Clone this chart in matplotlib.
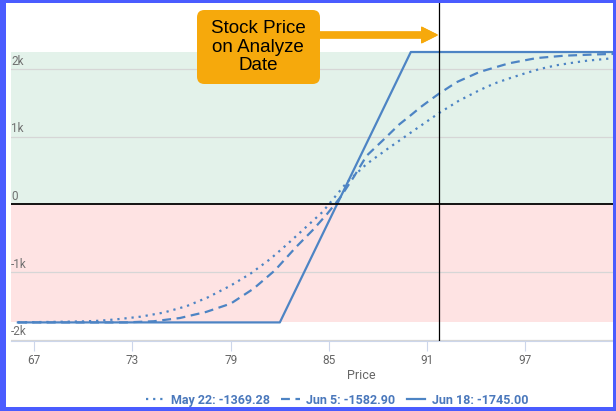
import matplotlib.pyplot as plt
from matplotlib.patches import Rectangle, FancyBboxPatch

# P/L by price for each analysis date
may22_price = [66.0, 68.0, 70.0, 71.0, 72.0, 73.5, 74.9, 76.3, 77.6, 79.0, 80.2, 81.4,
               82.4, 83.5, 84.6, 86.1, 87.3, 88.7, 90.0, 91.7, 92.9, 94.2, 95.1, 96.1,
               97.0, 97.9, 98.9, 99.8, 100.8, 101.9, 102.5]
may22_pl = [-1743, -1738, -1730, -1720, -1700, -1660, -1600, -1505, -1375, -1200, -1025, -810,
            -600, -357, -113, 328, 598, 843, 1063, 1348, 1529, 1691, 1789, 1872,
            1941, 2005, 2059, 2093, 2128, 2152, 2170]

jun5_price = [66.0, 70.0, 72.6, 74.3, 75.9, 77.5, 79.0, 80.4, 81.7, 83.0, 84.0, 84.9,
              85.7, 86.5, 87.3, 88.3, 89.3, 90.0, 90.6, 91.3, 91.7, 92.8, 94.2, 96.0,
              97.7, 99.4, 101.4, 102.5]
jun5_pl = [-1745, -1745, -1745, -1728, -1680, -1590, -1467, -1245, -975, -628, -382, -137,
           107, 401, 720, 950, 1185, 1320, 1440, 1565, 1635, 1809, 1960, 2088,
           2166, 2201, 2220, 2228]

jun18_price = [66.0, 82.0, 90.0, 102.5]
jun18_pl = [-1745, -1745, 2255, 2255]

legend_labels = ["May 22: -1369.28", "Jun 5: -1582.90", "Jun 18: -1745.00"]
x_ticks = [67, 73, 79, 85, 91, 97]
y_ticks = [2000, 1000, 0, -1000, -2000]
y_tick_labels = ["2k", "1k", "0", "-1k", "-2k"]
analyze_price = 91.7

W, H = 616, 411
line_color = "#4d84c4"
orange = "#f6a90c"
border = "#4a5cff"

fig = plt.figure(figsize=(W / 100, H / 100), dpi=100)
ax = fig.add_axes([11 / W, (H - 341) / H, 602 / W, 338 / H])

ax.axhspan(0, max(jun18_pl), color="#e3f2ea", lw=0, zorder=0)
ax.axhspan(min(jun18_pl), 0, color="#fee3e3", lw=0, zorder=0)
for v in y_ticks:
    if v != 0:
        ax.axhline(v, color="#d6d6d6", lw=0.9, zorder=1)
ax.axhline(0, color="black", lw=1.3, zorder=4)
ax.axvline(analyze_price, color="black", lw=0.9, zorder=4)

l1, = ax.plot(may22_price, may22_pl, color=line_color, lw=1.6, ls=(0, (1, 2.2)), zorder=3)
l2, = ax.plot(jun5_price, jun5_pl, color=line_color, lw=1.6, ls=(0, (4, 2.5)), zorder=3)
l3, = ax.plot(jun18_price, jun18_pl, color=line_color, lw=1.6, zorder=3)

ax.set_xlim(65.58, 102.35)
ax.set_ylim(-2020, 2980)
for s in ["top", "right", "left"]:
    ax.spines[s].set_visible(False)
ax.spines["bottom"].set_color("#ccd6eb")
ax.set_yticks([])
ax.set_xticks(x_ticks)
ax.set_xticklabels([str(t) for t in x_ticks])
ax.tick_params(axis="x", length=7, color="#ccd6eb", labelcolor="#666666",
               labelsize=8.5, pad=2)
for lab in ax.get_xticklabels():
    lab.set_family("Roboto")

for v, t in zip(y_ticks, y_tick_labels):
    ax.annotate(t, xy=(0, v), xycoords=("axes fraction", "data"), xytext=(0, 1),
                textcoords="offset points", ha="left", va="bottom",
                color="#707070", fontsize=8.5, family="Roboto")

fig.text(361 / W, 1 - 375 / H, "Price", ha="center", va="center",
         color="#666666", fontsize=9, family="Roboto")

leg = fig.legend([l1, l2, l3], legend_labels, loc="center", ncol=3,
                 bbox_to_anchor=(337 / W, 1 - 400 / H), frameon=False,
                 handlelength=1.5, handletextpad=0.5, columnspacing=0.9,
                 prop={"family": "Roboto", "weight": "bold", "size": 9})
for t in leg.get_texts():
    t.set_color("#4a78bc")

# annotation callout
box = FancyBboxPatch((197 / W, 1 - 84 / H), 123 / W, 74 / H,
                     boxstyle="round,pad=0,rounding_size=0.012",
                     transform=fig.transFigure, facecolor=orange, edgecolor="none",
                     mutation_aspect=W / H)
fig.add_artist(box)
fig.text(258 / W, 1 - 47 / H, "Stock Price\non Analyze\nDate", ha="center", va="center",
         fontsize=13.5, family="Liberation Sans", color="black", linespacing=1.08)
fig.add_artist(plt.annotate("", xy=(437, H - 35), xytext=(319, H - 35),
                            xycoords="figure pixels", textcoords="figure pixels",
                            arrowprops=dict(arrowstyle="simple,head_length=1.1,head_width=1.1,tail_width=0.42",
                                            color=orange, shrinkA=0, shrinkB=0)))

# blue frame
for x0, y0, w, h in [(0, 0, 5.5, H), (0, H - 3, W, 3), (W - 3, 0, 3, H), (0, 0, W, 4)]:
    fig.add_artist(Rectangle((x0 / W, y0 / H), w / W, h / H, transform=fig.transFigure,
                             facecolor=border, edgecolor="none", zorder=10))

fig.savefig("out.png", dpi=100)
